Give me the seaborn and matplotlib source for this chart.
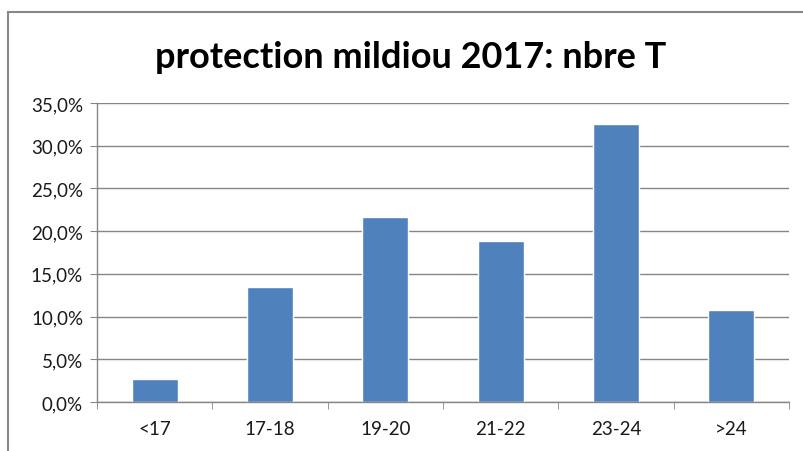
import matplotlib
matplotlib.use("Agg")
import matplotlib.pyplot as plt
import matplotlib.patches as mpatches
from matplotlib.ticker import FuncFormatter, FixedLocator
import pandas as pd
import seaborn as sns

# -----------------------------------
# Data
# -----------------------------------

categories = ["<17", "17-18", "19-20", "21-22", "23-24", ">24"]
shares = [0.027, 0.135, 0.217, 0.189, 0.325, 0.108]
title = "protection mildiou 2017: nbre T"

df = pd.DataFrame({"classe": categories, "part": shares})

# -----------------------------------
# Style
# -----------------------------------

sns.set_style("white")
plt.rcParams["font.family"] = ["Lato", "DejaVu Sans"]

grid_col = "#868686"

fig = plt.figure(figsize=(8.04, 4.52), dpi=100)
ax = fig.add_axes([0.1206, 0.1084, 0.8607, 0.6615])

sns.barplot(
    data=df,
    x="classe",
    y="part",
    color="#4F81BD",
    saturation=1,
    width=0.4,
    ax=ax
)

ax.set_xlim(-0.5, len(categories) - 0.5)
ax.set_ylim(0, 0.35)
ax.set_yticks([i * 0.05 for i in range(8)])
ax.yaxis.set_major_formatter(
    FuncFormatter(lambda v, p: f"{v * 100:.1f}%".replace(".", ","))
)
ax.yaxis.grid(True, color=grid_col, linewidth=1)
ax.set_axisbelow(True)

ax.set_xlabel("")
ax.set_ylabel("")

for side in ["top", "right"]:
    ax.spines[side].set_visible(False)
for side in ["left", "bottom"]:
    ax.spines[side].set_color(grid_col)
    ax.spines[side].set_linewidth(1)

ax.tick_params(axis="x", which="major", length=0, pad=13,
               labelsize=13.5, labelcolor="#1a1a1a")
ax.xaxis.set_minor_locator(
    FixedLocator([i - 0.5 for i in range(len(categories) + 1)])
)
ax.tick_params(axis="x", which="minor", length=5, color=grid_col,
               direction="out", bottom=True)
ax.tick_params(axis="y", length=5, color=grid_col, direction="out",
               left=True, labelsize=13.5, labelcolor="#1a1a1a", pad=5)

fig.text(0.511, 0.872, title, ha="center", va="center",
         fontsize=26, fontweight="bold", color="black")

# outer chart frame
fig.patches.append(
    mpatches.Rectangle(
        (8 / 804, -0.1), 1.2, 1 - 13 / 452 + 0.1,
        transform=fig.transFigure, fill=False,
        edgecolor="#888888", linewidth=1.5
    )
)

fig.savefig("out.png", dpi=100)
plt.close(fig)
